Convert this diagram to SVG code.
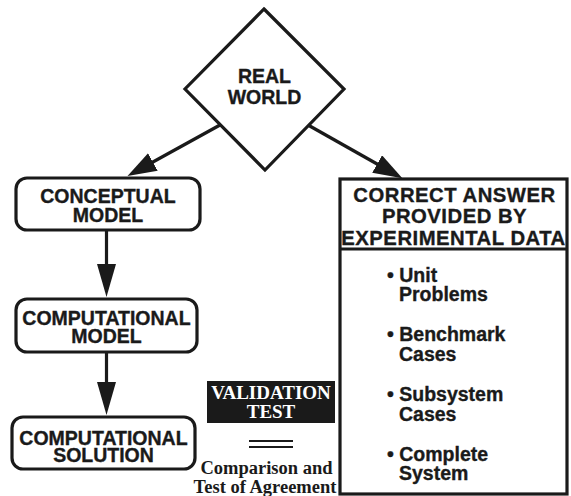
<svg xmlns="http://www.w3.org/2000/svg" width="571" height="496" viewBox="0 0 571 496">
<style>
.s{fill:#fff;stroke:#1a1a1a;stroke-width:3.2}
.t{font-family:"Liberation Sans",Arial,sans-serif;font-weight:bold;font-size:19.5px;fill:#1a1a1a;stroke:#1a1a1a;stroke-width:0.35;text-anchor:middle}
.b{font-family:"Liberation Sans",Arial,sans-serif;font-weight:bold;font-size:19.5px;fill:#1a1a1a;stroke:#1a1a1a;stroke-width:0.35}
.h{font-size:20.3px;letter-spacing:0.5px}
.r{font-family:"Liberation Serif","Times New Roman",serif;font-weight:bold;text-anchor:middle}
.c{stroke:#1a1a1a;stroke-width:3.2;fill:none}
</style>
<defs>
<marker id="ad" markerUnits="userSpaceOnUse" markerWidth="30" markerHeight="22" refX="1" refY="10" orient="auto">
<path d="M0,0 L29,10 L0,20 Z" fill="#1a1a1a"/>
</marker>
<marker id="av" markerUnits="userSpaceOnUse" markerWidth="34" markerHeight="22" refX="1" refY="10" orient="auto">
<path d="M0,0.5 L33,10 L0,19.5 Z" fill="#1a1a1a"/>
</marker>
</defs>
<rect width="571" height="496" fill="#fff"/>
<g id="connectors">
<line class="c" x1="220" y1="125" x2="152" y2="162.5" marker-end="url(#ad)"/>
<line class="c" x1="308" y1="125" x2="378" y2="164.5" marker-end="url(#ad)"/>
<line class="c" x1="106.5" y1="230" x2="106.5" y2="265" marker-end="url(#av)"/>
<line class="c" x1="106.5" y1="352" x2="106.5" y2="383" marker-end="url(#av)"/>
</g>
<g id="real-world">
<polygon class="s" points="264,9 344,89 265,170 185,89"/>
<text class="t" x="264.5" y="83">REAL</text>
<text class="t" x="264.5" y="104">WORLD</text>
</g>
<g id="conceptual-model">
<rect class="s" x="16" y="178" width="184" height="52" rx="11"/>
<text class="t" x="108" y="203">CONCEPTUAL</text>
<text class="t" x="108" y="222">MODEL</text>
</g>
<g id="computational-model">
<rect class="s" x="16" y="299" width="181" height="53" rx="11"/>
<text class="t" x="106.5" y="325">COMPUTATIONAL</text>
<text class="t" x="106.5" y="343">MODEL</text>
</g>
<g id="computational-solution">
<rect class="s" x="12" y="417" width="183" height="52" rx="11"/>
<text class="t" x="103.5" y="445">COMPUTATIONAL</text>
<text class="t" x="103.5" y="462">SOLUTION</text>
</g>
<g id="validation-test">
<rect x="207" y="381" width="128" height="42" fill="#1a1a1a"/>
<text class="r" x="271" y="399" font-size="19" fill="#fff">VALIDATION</text>
<text class="r" x="271" y="418" font-size="19" fill="#fff">TEST</text>
<line x1="249" y1="441" x2="293" y2="441" stroke="#1a1a1a" stroke-width="1.8"/>
<line x1="249" y1="447" x2="293" y2="447" stroke="#1a1a1a" stroke-width="1.8"/>
<text class="r" x="266.5" y="474" font-size="18.5" fill="#1a1a1a">Comparison and</text>
<text class="r" x="265" y="493" font-size="18.5" fill="#1a1a1a">Test of Agreement</text>
</g>
<g id="experimental-data">
<rect class="s" x="340" y="179" width="227" height="315"/>
<line class="c" x1="340" y1="249" x2="567" y2="249"/>
<text class="t h" x="454.5" y="202">CORRECT ANSWER</text>
<text class="t h" x="454.5" y="223">PROVIDED BY</text>
<text class="t h" x="453.5" y="245">EXPERIMENTAL DATA</text>
<text class="b" x="387" y="282">• Unit</text>
<text class="b" x="399" y="301">Problems</text>
<text class="b" x="387" y="341">• Benchmark</text>
<text class="b" x="399" y="361">Cases</text>
<text class="b" x="387" y="401">• Subsystem</text>
<text class="b" x="399" y="421">Cases</text>
<text class="b" x="387" y="461">• Complete</text>
<text class="b" x="399" y="480">System</text>
</g>
</svg>
